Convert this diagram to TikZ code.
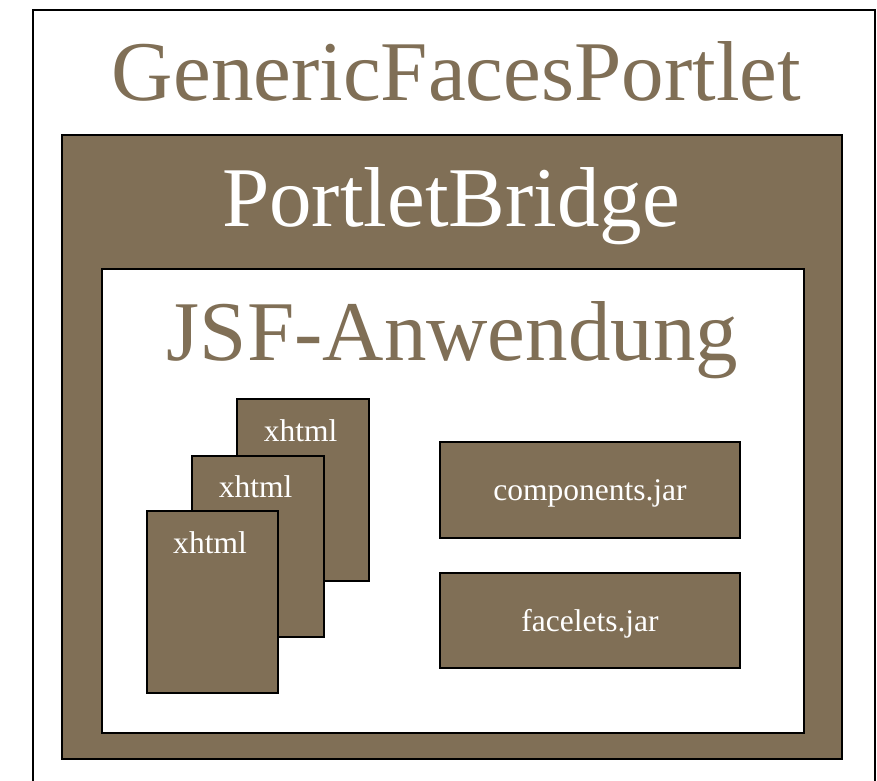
\documentclass[tikz,border=0pt]{standalone}
\usepackage{fontspec}
\setmainfont{Liberation Serif}
\definecolor{brown}{HTML}{806F56}
\begin{document}
\begin{tikzpicture}[x=1pt,y=-1pt,
  box/.style={draw=black,line width=1.8pt,rectangle,inner sep=0pt},
  filled/.style={box,fill=brown},
  bigtext/.style={font=\fontsize{85}{90}\selectfont,anchor=base,inner sep=0pt},
  smalltext/.style={font=\fontsize{31.5}{34}\selectfont,anchor=base,inner sep=0pt,text=white}]
\useasboundingbox (0,0) rectangle (877,780);
\clip (0,0) rectangle (877,780);
\fill[white] (0,0) rectangle (877,780);
% outer
\node[box,line width=1.5pt,fill=white,minimum width=842pt,minimum height=790pt] (outer) at (454,405) {};
\node[bigtext,text=brown] (outertitle) at (456.5,100) {GenericFacesPortlet};
% bridge
\node[filled,minimum width=780pt,minimum height=624pt] (bridge) at (452,447) {};
\node[bigtext,text=white] (bridgetitle) at (451,226) {PortletBridge};
% jsf
\node[box,fill=white,minimum width=702pt,minimum height=464pt] (jsf) at (453,501) {};
\node[bigtext,text=brown] (jsftitle) at (452.5,360) {JSF-Anwendung};
% jars
\node[filled,minimum width=300pt,minimum height=96pt] (comp) at (590,490) {};
\node[smalltext] (complabel) at (590,500.7) {components.jar};
\node[filled,minimum width=300pt,minimum height=95pt] (face) at (590,620.5) {};
\node[smalltext] (facelabel) at (590,631.7) {facelets.jar};
% xhtml pages
\node[filled,minimum width=132pt,minimum height=182pt] (page3) at (303,490) {};
\node[smalltext] (page3label) at (300.5,441.7) {xhtml};
\node[filled,minimum width=132pt,minimum height=181pt] (page2) at (258,546.5) {};
\node[smalltext] (page2label) at (255.5,497.3) {xhtml};
\node[filled,minimum width=131pt,minimum height=182pt] (page1) at (212.5,602) {};
\node[smalltext] (page1label) at (210,553.3) {xhtml};
\end{tikzpicture}
\end{document}
